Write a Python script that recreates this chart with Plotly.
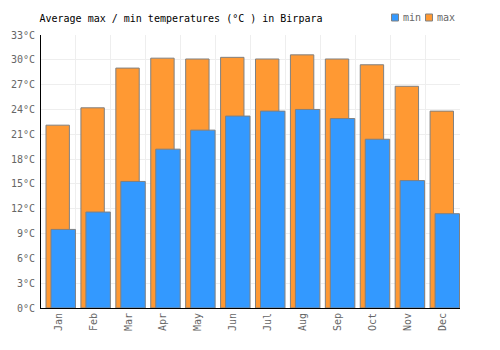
import plotly.graph_objects as go

months = ["Jan", "Feb", "Mar", "Apr", "May", "Jun", "Jul", "Aug", "Sep", "Oct", "Nov", "Dec"]
t_max = [22.1, 24.2, 29.0, 30.2, 30.1, 30.3, 30.1, 30.6, 30.1, 29.4, 26.8, 23.8]
t_min = [9.5, 11.6, 15.3, 19.2, 21.5, 23.2, 23.8, 24.0, 22.9, 20.4, 15.4, 11.4]
y_ticks = list(range(0, 34, 3))
y_labels = [f"{v}°C" for v in y_ticks]

FONT = "DejaVu Sans Mono"
C_MAX = "#FF9933"
C_MIN = "#3399FF"
EDGE = "#808080"

W, H = 500, 350
L, R, T, B = 41, 40, 35, 42
PW, PH = W - L - R, H - T - B

def px(x):
    return (x - L) / PW

def py(y):
    return (H - B - y) / PH

fig = go.Figure()
fig.add_trace(go.Bar(
    x=months, y=t_max, name="max",
    marker=dict(color=C_MAX, line=dict(color=EDGE, width=1)),
    offset=-0.357, width=0.67,
))
fig.add_trace(go.Bar(
    x=months, y=t_min, name="min",
    marker=dict(color=C_MIN, line=dict(color=EDGE, width=1)),
    offset=-0.214, width=0.70,
))

shapes = []
annotations = []
for name, color, sx in [("min", C_MIN, 391.5), ("max", C_MAX, 425.5)]:
    shapes.append(dict(type="rect", xref="paper", yref="paper",
                       x0=px(sx), x1=px(sx + 7), y0=py(21), y1=py(14),
                       fillcolor=color, line=dict(color=EDGE, width=1)))
    annotations.append(dict(text=name, xref="paper", yref="paper",
                            x=px(sx + 9), y=py(17.5), xanchor="left", yanchor="middle",
                            showarrow=False,
                            font=dict(family=FONT, size=10, color="#666666")))

fig.update_layout(
    width=W, height=H,
    margin=dict(l=L, r=R, t=T, b=B, autoexpand=False),
    paper_bgcolor="white", plot_bgcolor="white",
    barmode="overlay",
    showlegend=False,
    font=dict(family=FONT, size=10, color="#666666"),
    title=dict(text="Average max / min temperatures (°C ) in Birpara",
               x=39.5 / W, xanchor="left", y=1 - 18 / H, yanchor="middle",
               font=dict(family=FONT, size=10, color="#000000")),
    shapes=shapes,
    annotations=annotations,
)
fig.update_xaxes(
    type="category", tickson="boundaries", showgrid=True, gridcolor="#eeeeee",
    showline=True, linecolor="#000000", linewidth=1, ticks="", tickangle=-90,
    tickfont=dict(family=FONT, size=10, color="#666666"),
)
fig.update_yaxes(
    range=[0, 33], tickvals=y_ticks, ticktext=y_labels, showgrid=True,
    gridcolor="#eeeeee", showline=True, linecolor="#000000", linewidth=1,
    zeroline=False, ticks="", ticklabelstandoff=3,
    tickfont=dict(family=FONT, size=10, color="#666666"),
)

fig.write_html("out.html")
